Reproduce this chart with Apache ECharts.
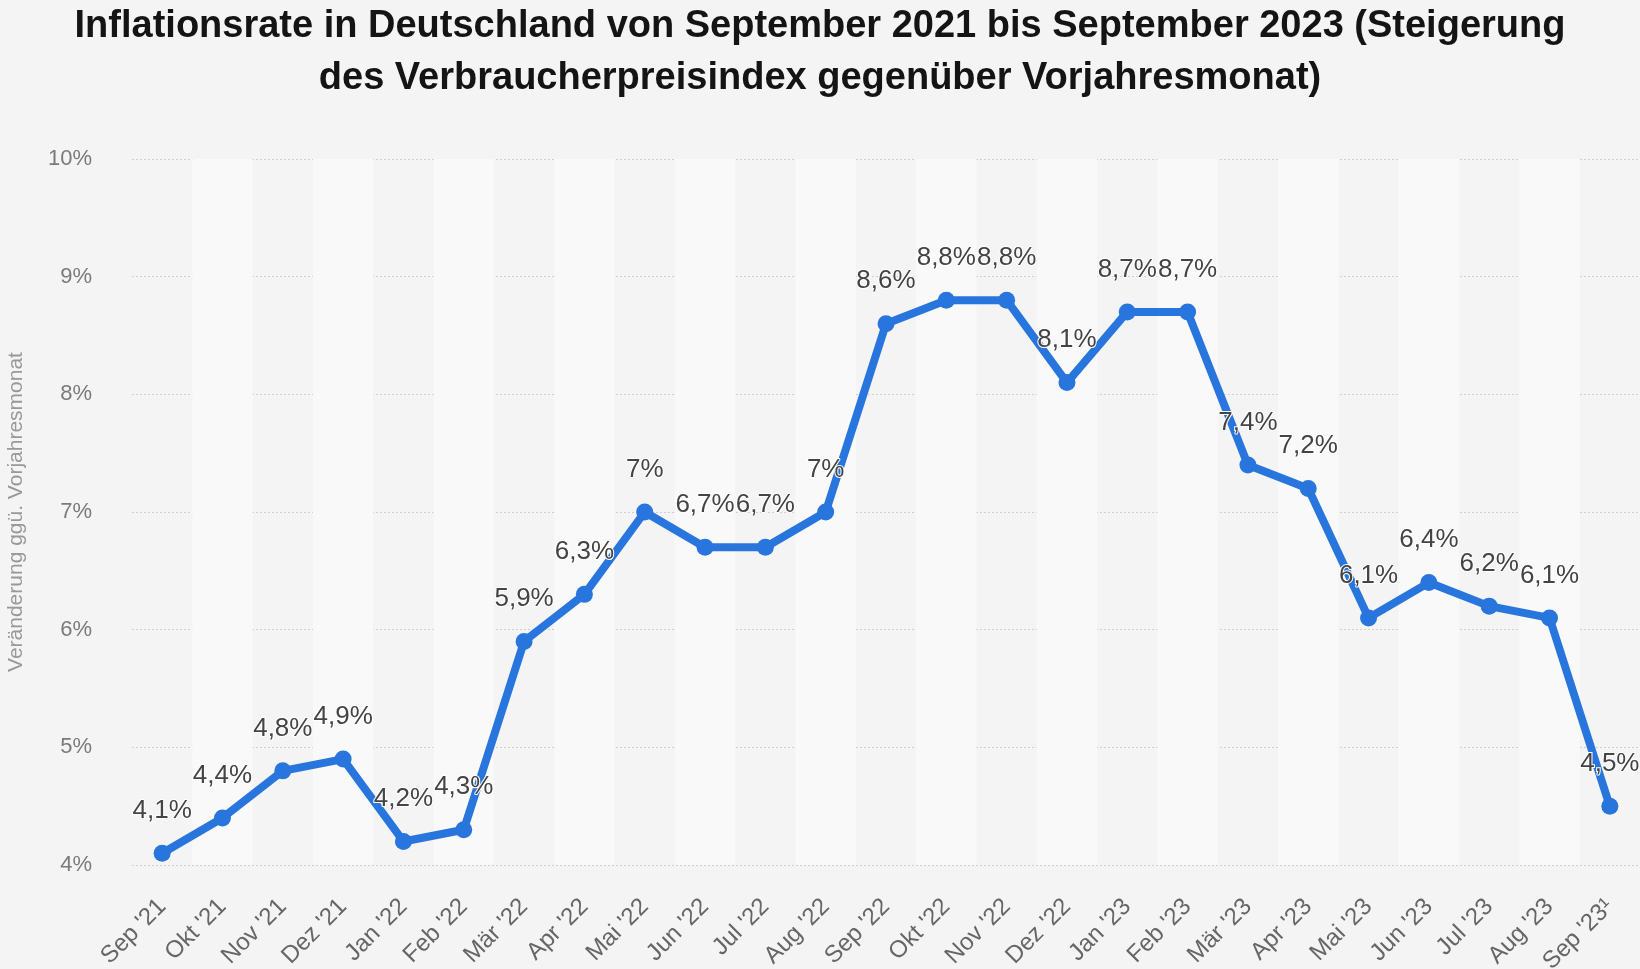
<!DOCTYPE html>
<html>
<head>
<meta charset="utf-8">
<script src="https://cdn.jsdelivr.net/npm/echarts@6/dist/echarts.min.js"></script>
<style>
  html, body { margin: 0; padding: 0; background: #f4f4f4; }
  #chart { width: 1640px; height: 969px; }
</style>
</head>
<body>
<div id="chart"></div>
<script>
const months = ["Sep '21", "Okt '21", "Nov '21", "Dez '21", "Jan '22", "Feb '22", "Mär '22", "Apr '22",
  "Mai '22", "Jun '22", "Jul '22", "Aug '22", "Sep '22", "Okt '22", "Nov '22", "Dez '22",
  "Jan '23", "Feb '23", "Mär '23", "Apr '23", "Mai '23", "Jun '23", "Jul '23", "Aug '23", "Sep '23¹"];
const inflation = [4.1, 4.4, 4.8, 4.9, 4.2, 4.3, 5.9, 6.3, 7.0, 6.7, 6.7, 7.0, 8.6, 8.8, 8.8, 8.1,
  8.7, 8.7, 7.4, 7.2, 6.1, 6.4, 6.2, 6.1, 4.5];
const yTicks = [4, 5, 6, 7, 8, 9, 10];
const titleLines = [
  'Inflationsrate in Deutschland von September 2021 bis September 2023 (Steigerung',
  'des Verbraucherpreisindex gegenüber Vorjahresmonat)'
];

const fmt = v => String(v).replace('.', ',') + '%';
const titleStyle = {
  fontFamily: 'Liberation Sans',
  fontWeight: 'bold',
  fontSize: 38,
  color: '#141414'
};

const chart = echarts.init(document.getElementById('chart'));
chart.setOption({
  backgroundColor: '#f4f4f4',
  title: [
    { text: titleLines[0], left: 'center', top: 3, textStyle: titleStyle },
    { text: titleLines[1], left: 'center', top: 55, textStyle: titleStyle }
  ],
  grid: { left: 132, right: 0, top: 159, bottom: 104, containLabel: false, outerBoundsMode: 'none' },
  xAxis: {
    type: 'category',
    data: months,
    boundaryGap: true,
    axisLine: { show: false },
    axisTick: { show: false },
    axisLabel: {
      rotate: 45,
      interval: 0,
      margin: 38,
      fontFamily: 'Liberation Sans',
      fontSize: 24,
      color: '#666'
    },
    splitArea: { show: true, areaStyle: { color: ['rgba(0,0,0,0)', '#f9f9f9'] } }
  },
  yAxis: {
    type: 'value',
    min: yTicks[0],
    max: yTicks[yTicks.length - 1],
    interval: 1,
    name: 'Veränderung ggü. Vorjahresmonat',
    nameLocation: 'middle',
    nameGap: 105,
    nameTextStyle: { fontFamily: 'Liberation Sans', fontSize: 21, color: '#999' },
    axisLabel: {
      margin: 40,
      fontFamily: 'Liberation Sans',
      fontSize: 22,
      color: '#7a7a7a',
      formatter: v => v + '%'
    },
    splitLine: { lineStyle: { color: '#cfcfcf', type: [2, 2], width: 1 } }
  },
  series: [{
    type: 'line',
    data: inflation,
    symbol: 'circle',
    symbolSize: 17,
    itemStyle: { color: '#2876dd' },
    lineStyle: { color: '#2876dd', width: 8 },
    label: {
      show: true,
      position: 'top',
      distance: 21,
      fontFamily: 'Liberation Sans',
      fontSize: 26,
      color: '#444',
      textBorderColor: '#fff',
      textBorderWidth: 2,
      formatter: p => fmt(p.value)
    },
    labelLayout: { hideOverlap: false },
    z: 3
  }]
});
</script>
</body>
</html>
